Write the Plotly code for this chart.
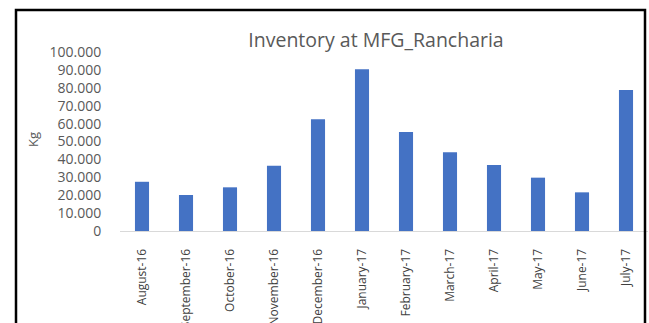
import plotly.graph_objects as go

# Monthly inventory (kg) at the Rancharia site
months = ["August-16", "September-16", "October-16", "November-16", "December-16",
          "January-17", "February-17", "March-17", "April-17", "May-17", "June-17", "July-17"]
inventory_kg = [27500, 20100, 24400, 36500, 62400, 90300, 55300, 44000, 36900, 29800, 21600, 78800]
y_ticks = [0, 10000, 20000, 30000, 40000, 50000, 60000, 70000, 80000, 90000, 100000]

W, H = 649, 323
L, R, T, B = 120, 1, 52, 92
pw, ph = W - L - R, H - T - B


def px_x(x):
    return (x - L) / pw


def px_y(y):
    return (H - B - y) / ph


fig = go.Figure(
    go.Bar(
        x=months,
        y=inventory_kg,
        marker=dict(color="#4472C4", line=dict(width=0)),
        width=0.32,
    )
)

fig.update_layout(
    width=W,
    height=H,
    margin=dict(l=L, r=R, t=T, b=B, autoexpand=False),
    plot_bgcolor="white",
    paper_bgcolor="white",
    separators=",.",
    showlegend=False,
    font=dict(family="Open Sans, sans-serif", color="#595959"),
    title=dict(
        text="Inventory at MFG_Rancharia",
        x=px_x(376), xref="paper", xanchor="center",
        y=1 - 40 / H, yref="container", yanchor="middle",
        font=dict(size=19.5, color="#595959", family="Open Sans, sans-serif"),
    ),
)

fig.update_xaxes(
    type="category",
    range=[-0.5, 11.5],
    automargin=False,
    tickangle=-90,
    tickfont=dict(size=12, color="#404040"),
    showline=True,
    linecolor="#d9d9d9",
    linewidth=1,
    showgrid=False,
    ticks="outside",
    ticklen=12,
    tickcolor="rgba(0,0,0,0)",
)

fig.update_yaxes(
    range=[0, 100000],
    automargin=False,
    tickvals=y_ticks,
    tickformat=",d",
    tickfont=dict(size=14, color="#595959"),
    showgrid=False,
    zeroline=False,
    showline=False,
    ticks="outside",
    ticklen=15,
    tickcolor="rgba(0,0,0,0)",
)

# Axis caption
fig.add_annotation(
    text="Kg", textangle=-90,
    x=px_x(33), y=px_y(140), xref="paper", yref="paper",
    xanchor="center", yanchor="middle",
    showarrow=False, font=dict(size=13, color="#595959"),
)

# Frame around the chart
fig.add_shape(
    type="rect", xref="paper", yref="paper",
    x0=px_x(16), x1=px_x(645), y0=px_y(340), y1=px_y(10),
    line=dict(color="black", width=2.5),
    fillcolor="rgba(0,0,0,0)",
)

fig.write_html("out.html")
